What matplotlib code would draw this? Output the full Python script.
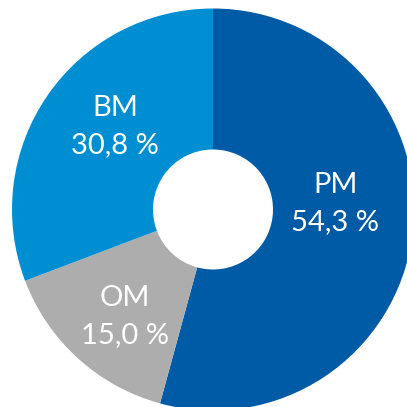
import matplotlib
matplotlib.use('Agg')
import matplotlib.pyplot as plt
import numpy as np

names = ['PM', 'OM', 'BM']
shares = [54.3, 15.0, 30.8]
colors = ['#005BA6', '#ADADAD', '#008ED3']

# label anchor: angle in degrees, distance as fraction of outer radius
label_angles = [2.8, 230.4, 139.7]
label_dist = [0.61, 0.69, 0.64]


def donut_plot():
    fig = plt.figure(figsize=(4.07, 4.07), dpi=100)
    ax = fig.add_axes([0, 0, 1, 1])

    cx, cy, r = 213, 197.5, 201
    ax.pie(shares, colors=colors, startangle=90, counterclock=False,
           center=(cx, cy), radius=r, frame=True,
           wedgeprops=dict(width=r - 60, linewidth=0))
    ax.set_xlim(0, 407)
    ax.set_ylim(0, 407)
    ax.set_aspect('equal')
    ax.axis('off')

    for name, val, ang, d in zip(names, shares, label_angles, label_dist):
        x = cx + d * r * np.cos(np.radians(ang))
        y = cy + d * r * np.sin(np.radians(ang))
        txt = f'{name}\n{val:.1f} %'.replace('.', ',')
        ax.text(x, y, txt, ha='center', va='center', color='white',
                fontsize=21, family='Lato', linespacing=1.5)

    fig.savefig('out.png', dpi=100)


if __name__ == '__main__':
    donut_plot()
